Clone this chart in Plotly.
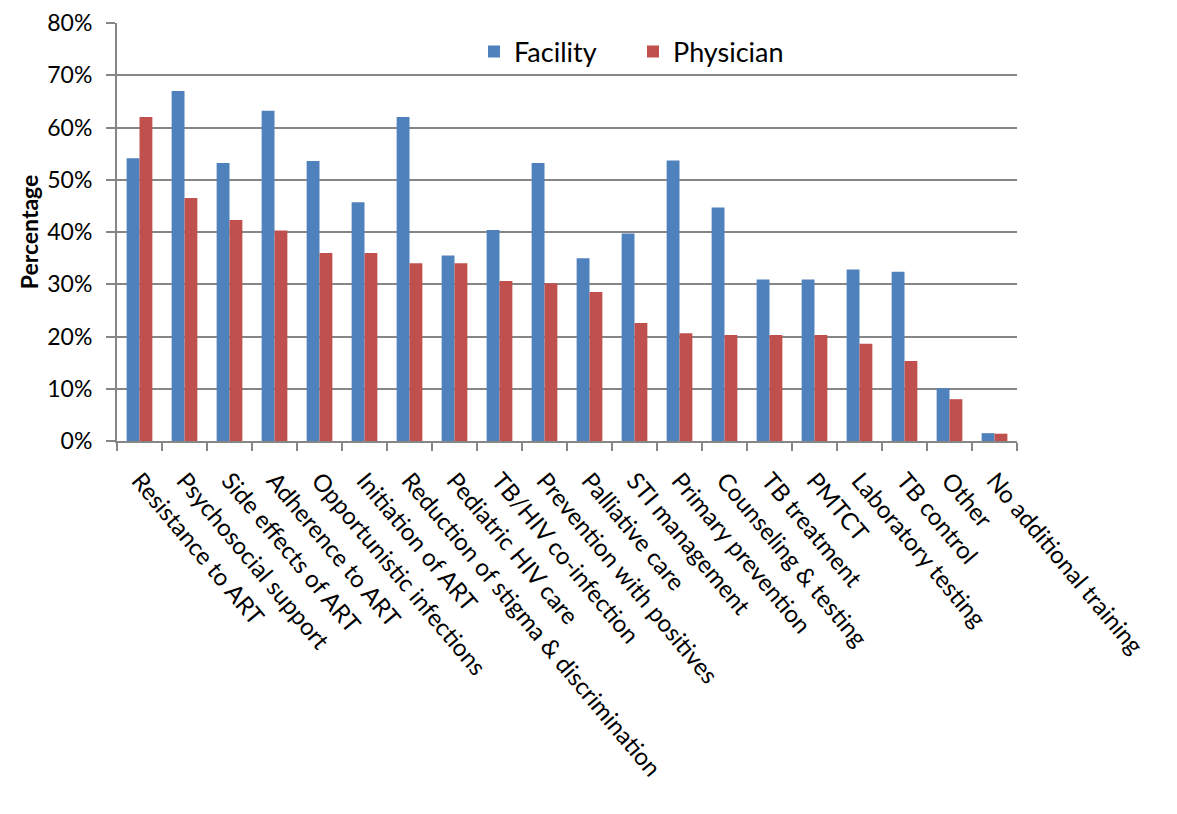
import plotly.graph_objects as go

# Training topics and share of respondents requesting each
categories = [
    "Resistance to ART", "Psychosocial support", "Side effects of ART",
    "Adherence to ART", "Opportunistic infections", "Initiation of ART",
    "Reduction of stigma & discrimination", "Pediatric HIV care",
    "TB/HIV co-infection", "Prevention with positives", "Palliative care",
    "STI management", "Primary prevention", "Counseling & testing",
    "TB treatment", "PMTCT", "Laboratory testing", "TB control", "Other",
    "No additional training",
]
facility = [0.541, 0.670, 0.532, 0.632, 0.536, 0.457, 0.620, 0.355, 0.404, 0.532,
            0.350, 0.397, 0.537, 0.447, 0.309, 0.309, 0.328, 0.324, 0.101, 0.015]
physician = [0.620, 0.465, 0.423, 0.403, 0.360, 0.360, 0.340, 0.340, 0.306, 0.302,
             0.285, 0.226, 0.206, 0.203, 0.203, 0.203, 0.186, 0.153, 0.080, 0.014]
y_ticks = [0, 0.1, 0.2, 0.3, 0.4, 0.5, 0.6, 0.7, 0.8]

FONT = "Lato"
GRID = "#868686"
W, H = 1177, 814

fig = go.Figure()
fig.add_trace(go.Bar(name="Facility", x=categories, y=facility,
                     marker=dict(color="#4F81BD", line=dict(width=0))))
fig.add_trace(go.Bar(name="Physician", x=categories, y=physician,
                     marker=dict(color="#C0504D", line=dict(width=0))))

fig.update_layout(
    width=W, height=H,
    margin=dict(l=0, r=0, t=0, b=0, autoexpand=False),
    paper_bgcolor="white", plot_bgcolor="rgba(0,0,0,0)",
    barmode="group", bargap=0.4286, bargroupgap=0,
    font=dict(family=FONT, size=22, color="black"),
    showlegend=True,
    legend=dict(orientation="h", x=474 / W, xanchor="left",
                y=(H - 52) / H, yanchor="middle",
                font=dict(family=FONT, size=27, color="black"),
                entrywidth=114, bgcolor="rgba(0,0,0,0)"),
)

# Main category axis and percentage axis
fig.update_xaxes(
    domain=[117 / W, 1017 / W], anchor="y",
    type="category", tickangle=50, tickson="boundaries",
    ticks="outside", ticklen=8, tickwidth=2, tickcolor=GRID,
    ticklabelstandoff=14,
    showline=True, linecolor=GRID, linewidth=2, showgrid=False,
    tickfont=dict(family=FONT, size=24, color="black"),
)
fig.update_yaxes(
    domain=[(H - 441) / H, (H - 23) / H], anchor="x",
    range=[0, 0.8], tickvals=y_ticks, tickformat=".0%",
    ticks="outside", ticklen=9, tickwidth=2, tickcolor=GRID,
    ticklabelstandoff=9,
    showline=True, linecolor=GRID, linewidth=2,
    showgrid=True, gridcolor=GRID, gridwidth=2, zeroline=False,
    tickfont=dict(family=FONT, size=23, color="black"),
    title=dict(text="<b>Percentage</b>", standoff=2,
               font=dict(family=FONT, size=23, color="black")),
)

# Outer chart frame: an empty axis pair whose lines give the top and left edges
fig.update_layout(
    xaxis2=dict(domain=[10 / W, 1.0], anchor="y2", side="top",
                showline=True, linecolor="black", linewidth=3,
                showticklabels=False, ticks="", showgrid=False, zeroline=False,
                fixedrange=True),
    yaxis2=dict(domain=[0.0, (H - 6) / H], anchor="x2", side="left",
                showline=True, linecolor="black", linewidth=3,
                showticklabels=False, ticks="", showgrid=False, zeroline=False,
                fixedrange=True),
)

fig.write_html("out.html")
